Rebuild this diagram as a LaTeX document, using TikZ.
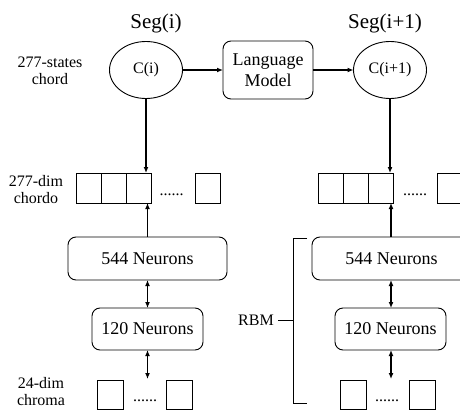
\documentclass[tikz,border=0pt]{standalone}
\usepackage{fontspec}
\setmainfont{Liberation Serif}
\usetikzlibrary{arrows.meta,shapes.geometric}
\begin{document}
\begin{tikzpicture}[x=1pt,y=-1pt,
  every node/.style={inner sep=0pt, outer sep=0pt},
  ell/.style={draw, ellipse, minimum width=73pt, minimum height=57pt, line width=0.9pt, font=\fontsize{16}{18}\selectfont},
  rbox/.style={draw, rounded corners=8pt, line width=0.9pt, font=\fontsize{18}{21}\selectfont, align=center},
  cell/.style={draw, minimum width=25pt, minimum height=30pt, line width=0.9pt},
  ccell/.style={draw, minimum width=26pt, minimum height=29pt, line width=0.9pt},
  lbl/.style={font=\fontsize{16}{17}\selectfont, align=center},
  dots/.style={font=\fontsize{16}{17}\selectfont, anchor=base},
  seg/.style={font=\fontsize{21}{23}\selectfont},
  arr/.style={line width=1.6pt, -{Latex[length=6pt,width=5pt]}},
  darr/.style={line width=1.6pt, {Latex[length=6pt,width=5pt]}-{Latex[length=6pt,width=5pt]}},
  thin/.style={line width=0.9pt},
]
\useasboundingbox (0,0) rectangle (460,412);
\clip (0,0) rectangle (460,412);
% titles
\node[seg] (segi) at (156,23) {Seg(i)};
\node[seg] (segj) at (385,23) {Seg(i+1)};
% top row
\node[ell] (ci) at (146,70) {C(i)};
\node[ell] (cj) at (390,70) {C(i+1)};
\node[rbox, minimum width=90pt, minimum height=58pt] (lm) at (268,70) {Language\\Model};
\node[lbl] (l1) at (50,71) {277-states\\chord};
\node[lbl] (l2) at (36,190) {277-dim\\chordo};
\node[lbl] (l3) at (41,392) {24-dim\\chroma};
\node[lbl] (rbm) at (256,320) {RBM};
% chordo cells left
\node[cell] (a1) at (88.5,188) {};
\node[cell] (a2) at (113.5,188) {};
\node[cell] (a3) at (138.5,188) {};
\node[cell] (a4) at (207.5,188) {};
\node[dots] (ad) at (171.5,195) {......};
% chordo cells right
\node[cell] (b1) at (330.5,188) {};
\node[cell] (b2) at (355.5,188) {};
\node[cell] (b3) at (380.5,188) {};
\node[cell] (b4) at (449.5,188) {};
\node[dots] (bd) at (415,195) {......};
% neuron boxes
\node[rbox, minimum width=159pt, minimum height=43pt] (na) at (147.5,258.5) {544 Neurons};
\node[rbox, minimum width=159pt, minimum height=43pt] (nb) at (391.5,258.5) {544 Neurons};
\node[rbox, minimum width=111pt, minimum height=42pt] (ma) at (147.5,329) {120 Neurons};
\node[rbox, minimum width=111pt, minimum height=42pt] (mb) at (390.5,329) {120 Neurons};
% chroma cells
\node[ccell] (c1) at (110,394.5) {};
\node[ccell] (c2) at (179.5,394.5) {};
\node[dots] (cd) at (145,401) {......};
\node[ccell] (d1) at (353,394.5) {};
\node[ccell] (d2) at (422,394.5) {};
\node[dots] (dd) at (387,401) {......};
\coordinate (ca) at (147.5,379);
\coordinate (cb) at (391,379);
% arrows
\draw[arr] (ci.east) -- (lm.west);
\draw[arr] (lm.east) -- (cj.west);
\draw[arr] (ci.south) -- (ci.south |- a3.north);
\draw[arr] (cj.south) -- (cj.south |- b3.north);
\draw[arr] (na.north) -- (na.north |- a3.south);
\draw[arr] ([xshift=-0.5pt]nb.north) -- ([xshift=-0.5pt]nb.north |- b3.south);
\draw[darr] (na.south) -- (ma.north);
\draw[darr] ([xshift=-0.5pt]nb.south) -- ([xshift=-0.5pt]nb.south |- mb.north);
\draw[darr] (ma.south) -- (ca);
\draw[darr] ([xshift=0.5pt]mb.south) -- (cb);
% bracket
\coordinate (bt) at (307,238);
\coordinate (bb) at (307,403);
\coordinate (bk) at (293,320);
\draw[thin] (bt) -- (293,238) -- (293,403) -- (bb);
\draw[thin] ([xshift=4pt]rbm.east) -- (bk);
\end{tikzpicture}
\end{document}
